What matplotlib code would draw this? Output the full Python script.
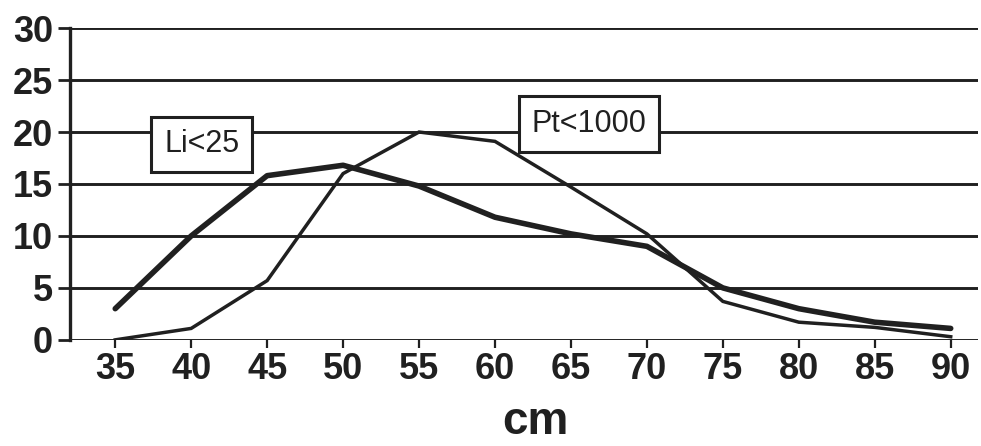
import matplotlib
matplotlib.use("Agg")
import matplotlib.pyplot as plt

# Data
cm = [35, 40, 45, 50, 55, 60, 65, 70, 75, 80, 85, 90]
li_lt25 = [3.0, 10.0, 15.8, 16.8, 14.8, 11.8, 10.2, 9.0, 5.0, 3.0, 1.7, 1.1]
pt_lt1000 = [0.0, 1.1, 5.7, 16.0, 20.0, 19.1, 14.7, 10.2, 3.7, 1.7, 1.2, 0.3]
y_ticks = [0, 5, 10, 15, 20, 25, 30]
x_label = "cm"

ink = "#202020"
font = "Liberation Sans"

fig = plt.figure(figsize=(9.81, 4.46), dpi=100)
ax = fig.add_axes([0.071, 0.238, 0.926, 0.699])

ax.set_xlim(32.0, 91.8)
ax.set_ylim(0, 30)

for yv in y_ticks:
    ax.axhline(yv, color=ink, lw=2.1, zorder=1)

ax.plot(cm, pt_lt1000, color=ink, lw=2.5, solid_joinstyle="miter", zorder=3)
ax.plot(cm, li_lt25, color=ink, lw=4.0, solid_capstyle="round",
        solid_joinstyle="round", zorder=4)

for side in ["top", "right", "bottom"]:
    ax.spines[side].set_visible(False)
ax.spines["left"].set_color(ink)
ax.spines["left"].set_linewidth(2.4)

ax.set_xticks(cm)
ax.set_xticklabels([str(v) for v in cm])
ax.set_yticks(y_ticks)
ax.set_yticklabels([str(v) for v in y_ticks])
ax.tick_params(axis="x", direction="out", length=6, width=1.6, color=ink, pad=3)
ax.tick_params(axis="y", direction="out", length=9, width=2.0, color=ink, pad=3)
for lab in ax.get_xticklabels() + ax.get_yticklabels():
    lab.set_fontfamily(font)
    lab.set_fontweight("bold")
    lab.set_fontsize(26)
    lab.set_color(ink)

fig.text(535 / 981, 2 / 446, x_label, ha="center", va="bottom",
         fontfamily=font, fontweight="bold", fontsize=33, color=ink)

box = dict(boxstyle="square,pad=0.42", facecolor="white", edgecolor=ink, linewidth=2.2)
ax.text(40.7, 18.8, "Li<25", ha="center", va="center", fontsize=22,
        fontfamily=font, color=ink, bbox=box, zorder=5)
ax.text(66.2, 20.8, "Pt<1000", ha="center", va="center", fontsize=22,
        fontfamily=font, color=ink, bbox=box, zorder=5)

fig.savefig("out.png", dpi=100, facecolor="white")
